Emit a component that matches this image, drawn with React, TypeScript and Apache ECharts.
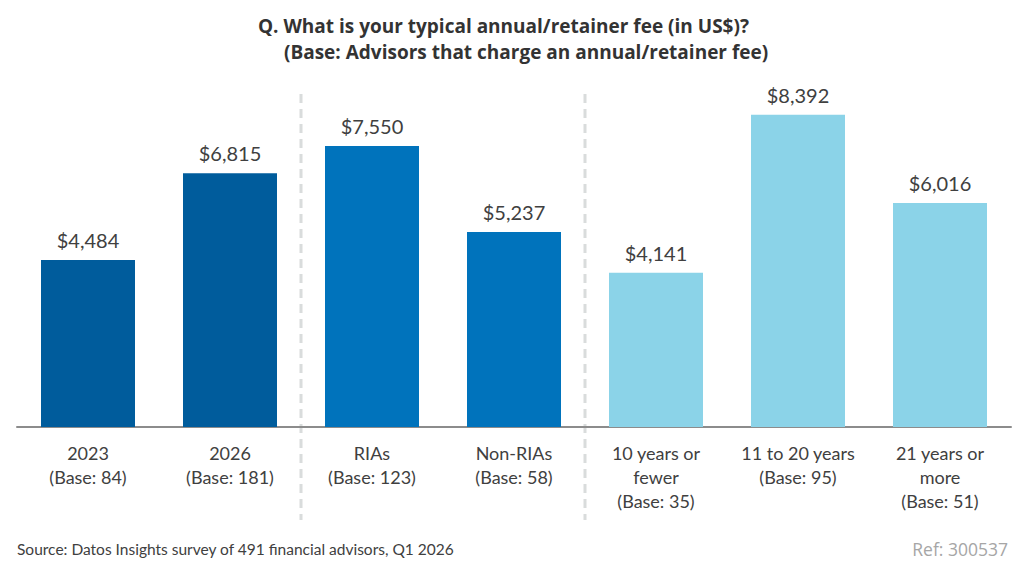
import React, { useEffect, useRef } from "react";
import * as echarts from "echarts";

const categories = [
  "2023\n(Base: 84)",
  "2026\n(Base: 181)",
  "RIAs\n(Base: 123)",
  "Non-RIAs\n(Base: 58)",
  "10 years or\nfewer\n(Base: 35)",
  "11 to 20 years\n(Base: 95)",
  "21 years or\nmore\n(Base: 51)",
];
const values = [4484, 6815, 7550, 5237, 4141, 8392, 6016];
const barColors = ["#005c9c", "#005c9c", "#0073bc", "#0073bc", "#8bd3e8", "#8bd3e8", "#8bd3e8"];
const titleLine1 = "Q. What is your typical annual/retainer fee (in US$)?";
const titleLine2 = "(Base: Advisors that charge an annual/retainer fee)";
const sourceText = "Source: Datos Insights survey of 491 financial advisors, Q1 2026";
const refText = "Ref: 300537";

const FONT = "Lato, 'Noto Sans', sans-serif";
const TFONT = "'Open Sans', Lato, sans-serif";

export default function App() {
  const ref = useRef<HTMLDivElement>(null);
  useEffect(() => {
    if (!ref.current) return;
    const chart = echarts.init(ref.current, undefined, { renderer: "svg" });
    const dash = (x: number) => ({
      type: "line",
      shape: { x1: x, y1: 94, x2: x, y2: 520 },
      style: { stroke: "#d9dcdc", lineWidth: 3, lineDash: [9, 6] },
      z: 0,
    });
    chart.setOption({
      animation: false,
      grid: { left: 17, top: 92, width: 994, bottom: 142, containLabel: false },
      xAxis: {
        type: "category",
        data: categories,
        axisTick: { show: false },
        axisLine: { lineStyle: { color: "#8c8c8c", width: 2 } },
        axisLabel: {
          interval: 0,
          color: "#404040",
          fontSize: 18,
          lineHeight: 24,
          margin: 14,
          fontFamily: FONT,
        },
      },
      yAxis: {
        type: "value",
        min: 0,
        max: 9000,
        show: false,
        splitLine: { show: false },
      },
      series: [
        {
          type: "bar",
          barWidth: 94,
          data: values.map((v, i) => ({ value: v, itemStyle: { color: barColors[i] } })),
          label: {
            show: true,
            position: "top",
            distance: 10,
            color: "#404040",
            fontSize: 20,
            fontFamily: FONT,
            formatter: (p: any) => "$" + Number(p.value).toLocaleString("en-US"),
          },
        },
      ],
      graphic: [
        dash(301),
        dash(585),
        {
          type: "text",
          x: 258,
          y: 26,
          style: { text: titleLine1, fill: "#333333", font: `bold 19px ${TFONT}`, verticalAlign: "middle" },
        },
        {
          type: "text",
          x: 284,
          y: 52,
          style: { text: titleLine2, fill: "#333333", font: `bold 19px ${TFONT}`, verticalAlign: "middle" },
        },
        {
          type: "text",
          left: 17,
          top: 541,
          style: { text: sourceText, fill: "#404040", font: `15.5px ${FONT}` },
        },
        {
          type: "text",
          right: 16,
          top: 540,
          style: { text: refText, fill: "#a6a6a6", font: `17.5px ${TFONT}` },
        },
      ],
    });
    return () => chart.dispose();
  }, []);
  return <div ref={ref} style={{ width: 1024, height: 569, margin: -8 }} />;
}
